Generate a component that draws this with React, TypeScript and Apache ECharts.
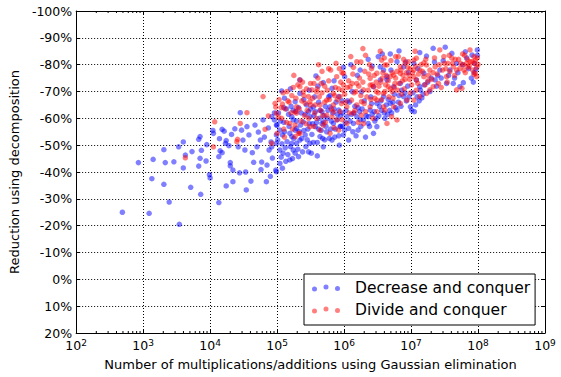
import React, { useEffect, useRef } from "react";
import * as echarts from "echarts";

// Decrease and conquer: [number of operations, reduction %]
const decreaseConquer: [number, number][] = [
  [4.9e2,-25],[8.5e2,-43.5],[1.23e3,-24.6],[1.35e3,-37.5],[1.41e3,-44.7],[2.04e3,-35.4],[2.04e3,-48.3],[2.14e3,-43.5],[2.45e3,-28.8],[2.88e3,-43.8],[3.47e3,-20.5],[3.39e3,-49.4],[3.98e3,-51.2],[3.98e3,-41.5],[4.27e3,-46.3],[5.13e3,-34.3],[5.37e3,-47.6],[6.76e3,-42.2],[6.76e3,-52.2],[7.08e3,-53.2],[7.08e3,-45.1],[7.24e3,-31.7],[7.41e3,-48.1],[8.71e3,-44.1],[8.91e3,-50.2],[9.77e3,-39],[1.0e4,-37.8],
  [1.12e4,-54.4],[1.1e4,-55.5],[1.35e4,-28.6],[1.35e4,-45.7],[1.38e4,-52.4],[1.41e4,-47.9],[1.51e4,-55.9],[1.51e4,-47.2],[1.62e4,-55.2],[1.70e4,-50.7],[1.74e4,-34.8],[1.74e4,-51.7],[1.91e4,-49.8],[2.0e4,-43.5],[2.0e4,-42.3],[2.09e4,-54],[2.19e4,-40.7],[2.19e4,-36.4],[2.34e4,-56.1],[2.63e4,-49.4],[2.75e4,-39.7],[2.82e4,-62.1],[2.95e4,-55.6],[3.09e4,-51.9],
  [3.31e4,-48.2],[3.39e4,-40],[3.47e4,-33.3],[3.55e4,-56.9],[3.80e4,-53.8],[4.07e4,-36.6],[4.27e4,-47.2],[4.47e4,-43.6],[4.68e4,-57.5],[5.01e4,-49.4],[5.25e4,-54.9],[5.62e4,-51.9],[5.75e4,-40.9],[5.89e4,-43.7],[6.17e4,-59.4],[6.46e4,-53],[6.92e4,-36.4],[7.08e4,-42.6],[7.41e4,-56.4],[7.59e4,-48.2],[7.94e4,-38.4],[8.13e4,-51.2],[8.51e4,-45.2],[9.12e4,-62],[9.55e4,-40.7],[9.77e4,-53.8],[9.77e4,-57.5],[8.32e4,-60.6],[9.12e4,-59.4],[9.77e4,-50.7],[8.32e4,-49.4],[9.77e4,-40.1],[1.17e5,-70.2],
  [1.0e5,-57.5],[1.10e5,-55.6],[1.20e5,-53.8],[1.10e5,-48.2],[1.23e5,-47],[1.41e5,-51.3],[1.66e5,-53.2],[1.86e5,-55.6],[1.95e5,-50.7],[1.55e5,-44.5],[1.10e5,-43.2],[1.20e5,-41.4],[1.74e5,-48.2],[2.09e5,-45.7],[1.86e5,-66.2],[1.66e5,-60.6],[1.95e5,-56.3],[2.45e5,-58.7],[2.63e5,-53.8],[3.09e5,-60.6],[2.19e5,-69.3],[2.75e5,-65],[1.74e5,-59.4],[1.55e5,-54.4],[2.19e5,-51.9],[3.09e5,-50.7],[1.66e5,-50.7],[2.19e5,-74.3],
  [1.05e5,-62],[1.15e5,-45.5],[1.26e5,-58.5],[1.32e5,-49],[1.38e5,-63.5],[1.45e5,-46.5],[1.51e5,-57],[1.62e5,-64.5],[1.70e5,-45],[1.78e5,-52.5],[1.91e5,-62.5],[2.04e5,-48.5],[2.14e5,-55],[2.29e5,-62],[2.40e5,-47.5],[2.51e5,-67],[2.69e5,-49.5],[2.88e5,-56],[2.95e5,-62.5],[3.02e5,-70.5],[1.29e5,-67.5],[1.58e5,-71],
  [1.02e5,-52],[1.12e5,-59],[1.18e5,-50.5],[1.29e5,-55],[1.35e5,-44],[1.48e5,-61.5],[1.58e5,-49.5],[1.74e5,-63],[1.86e5,-47],[1.95e5,-59],[2.09e5,-64],[2.24e5,-57.5],[2.34e5,-52.5],[2.51e5,-55.5],[2.63e5,-61.5],[2.82e5,-52],[3.02e5,-58],[3.16e5,-63.5],[2.95e5,-47.5],[1.26e5,-64],
  [3.80e5,-75.8],[4.90e5,-73.3],[3.72e5,-56.9],[4.37e5,-53.2],[4.90e5,-58.7],[5.50e5,-55],[6.61e5,-51.9],[6.92e5,-58.1],[8.32e5,-63.1],[8.71e5,-56.9],[9.77e5,-53.8],[6.61e5,-71.2],[8.32e5,-68.1],[6.17e5,-64.3],[4.68e5,-62.5],[3.47e5,-64.3],[4.90e5,-49.4],[9.77e5,-79],
  [3.24e5,-47],[3.39e5,-58],[3.55e5,-61],[3.63e5,-68],[3.98e5,-51],[4.17e5,-66],[4.27e5,-60],[4.57e5,-55.5],[5.13e5,-52],[5.25e5,-64.5],[5.62e5,-60],[5.89e5,-68],[6.31e5,-56],[6.76e5,-62],[7.24e5,-53],[7.59e5,-66],[7.94e5,-59.5],[8.51e5,-50],[8.91e5,-61],[9.33e5,-66.5],[9.55e5,-57],[4.07e5,-72],[7.08e5,-74],
  [3.31e5,-54],[3.47e5,-51],[3.72e5,-62.5],[3.89e5,-58.5],[4.17e5,-56],[4.37e5,-63],[4.68e5,-58],[4.79e5,-52.5],[5.01e5,-61],[5.37e5,-57],[5.75e5,-63],[6.03e5,-52.5],[6.46e5,-59],[7.08e5,-63.5],[7.41e5,-56],[7.94e5,-61.5],[8.32e5,-53.5],[8.91e5,-57],[9.55e5,-62],[6.17e5,-68.5],[3.98e5,-46],
  [1.02e6,-75.5],[1.74e6,-78],[2.29e6,-82],[1.10e6,-60.6],[1.17e6,-56.3],[1.38e6,-58.1],[1.55e6,-60.6],[1.62e6,-55.6],[1.95e6,-59.4],[2.29e6,-58.1],[2.45e6,-63.1],[3.09e6,-65.6],[1.17e6,-51.9],[1.82e6,-69.9],[2.75e6,-71.8],[1.02e6,-55.6],[2.29e6,-60.6],[2.75e6,-54.4],
  [1.07e6,-63],[1.20e6,-66],[1.29e6,-61.5],[1.45e6,-64.5],[1.51e6,-53.5],[1.70e6,-62.5],[1.78e6,-57],[2.0e6,-66.5],[2.09e6,-53],[2.51e6,-68],[2.63e6,-61.5],[2.88e6,-59],[1.26e6,-80],[1.58e6,-76],[2.63e6,-79.5],[1.32e6,-70],
  [1.05e6,-58.5],[1.12e6,-66.5],[1.23e6,-59],[1.35e6,-55],[1.41e6,-62],[1.62e6,-64],[1.74e6,-59.5],[1.86e6,-63.5],[2.14e6,-61],[2.40e6,-57],[2.57e6,-65.5],[2.82e6,-62.5],[3.02e6,-60],
  [3.24e6,-83],[3.47e6,-79.2],[3.89e6,-68.1],[3.47e6,-74.3],[4.37e6,-75.5],[6.61e6,-85.1],[4.90e6,-84],[3.89e6,-78],[6.17e6,-81.1],[7.76e6,-79.2],[4.37e6,-74.3],[5.50e6,-71.8],[6.92e6,-73],[4.90e6,-65.6],[6.17e6,-63.1],[7.76e6,-68.1],[9.77e6,-64.3],[3.09e6,-56.9],
  [3.31e6,-61],[3.63e6,-63],[4.07e6,-60],[4.57e6,-67],[5.13e6,-62],[5.62e6,-69],[6.46e6,-66],[7.24e6,-70.5],[8.51e6,-66.5],[8.91e6,-72],[5.01e6,-78],[8.32e6,-81],[3.72e6,-84],[9.12e6,-77],
  [3.39e6,-64.5],[3.55e6,-66.5],[3.98e6,-62],[4.27e6,-65],[4.47e6,-61.5],[4.79e6,-63],[5.37e6,-66],[5.89e6,-64],[6.61e6,-68.5],[7.08e6,-64.5],[8.13e6,-69.5],[9.33e6,-68],
  [1.35e7,-84.5],[1.70e7,-83.2],[2.14e7,-86.1],[3.24e7,-86.5],[4.07e7,-84.2],[6.46e7,-84.8],[8.13e7,-83.6],[1.10e7,-80.5],[1.55e7,-76.8],[2.29e7,-74.3],[3.39e7,-73],[6.03e7,-73.3],[5.37e7,-71.8],[1.35e7,-71.8],[1.20e7,-74.3],[2.69e7,-78],[4.79e7,-80.5],[9.77e7,-85.5],[9.33e7,-78.3],[8.71e7,-77],[1.02e7,-63],[1.17e7,-65],[1.32e7,-66.5],[1.45e7,-67.6],
  [1.07e7,-69.5],[1.58e7,-72.5],[1.91e7,-70],[2.51e7,-76],[3.02e7,-81.5],[3.80e7,-78],[4.47e7,-75],[5.89e7,-80],[7.24e7,-78.5],[6.76e7,-82.5],[1.26e7,-78.5],[2.24e7,-81],[8.91e7,-80.5],[9.77e7,-83.5],
  [1.12e7,-62.5],[1.23e7,-68],[1.38e7,-70.5],[1.51e7,-69],[1.78e7,-73.5],[2.0e7,-75],[2.40e7,-72],[2.82e7,-75],[3.63e7,-76],[4.27e7,-73],[5.01e7,-77],[7.94e7,-75],[8.51e7,-73.5]
];

// Divide and conquer: [number of operations, reduction %]
const divideConquer: [number, number][] = [
  [4.27e3,-45.3],[1.12e4,-49.4],[1.17e4,-58.7],[2.51e4,-51.3],[2.57e4,-52.2],[2.82e4,-58.1],[3.55e4,-62.1],[6.17e4,-68.1],[9.33e4,-65.6],[9.55e4,-64.2],[9.77e4,-61.9],[1.20e5,-65.3],[7.41e4,-60.9],[8.32e4,-50.7],[6.61e4,-55.9],[1.0e5,-54.4],
  [1.55e5,-58.1],[1.95e5,-61.9],[2.09e5,-54.4],[2.19e5,-74.3],[2.19e5,-71.8],[2.45e5,-69.9],[2.95e5,-68.1],[3.31e5,-70.6],[2.63e5,-65.6],[3.09e5,-66.2],[1.95e5,-64.3],[1.86e5,-62.5],[3.09e5,-56.9],[2.19e5,-54.4],[1.86e5,-53.2],[1.86e5,-57.5],
  [1.07e5,-67],[1.17e5,-60],[1.32e5,-63.5],[1.41e5,-70],[1.51e5,-66],[1.66e5,-68.5],[2.04e5,-72.5],[2.34e5,-66.5],[2.57e5,-61],[2.82e5,-63],[3.16e5,-73],[1.26e5,-56],[2.69e5,-58],[1.78e5,-76],
  [1.04e5,-60.5],[1.15e5,-64],[1.23e5,-69.5],[1.38e5,-58.5],[1.45e5,-66.5],[1.62e5,-62],[1.74e5,-71.5],[1.91e5,-67.5],[2.14e5,-63.5],[2.29e5,-59],[2.40e5,-73.5],[2.51e5,-68.5],[2.75e5,-71],[2.95e5,-60],[3.16e5,-65],[1.29e5,-53],[1.70e5,-56],
  [6.31e5,-78],[9.33e5,-77],[3.89e5,-69.9],[4.68e5,-69.5],[6.92e5,-69.3],[8.71e5,-68.1],[5.50e5,-66.8],[6.92e5,-65],[4.37e5,-65],[5.50e5,-61.2],[8.71e5,-62.5],[4.90e5,-57.5],[4.37e5,-55.6],[3.89e5,-60],[7.76e5,-59.4],[6.17e5,-54.4],[8.32e5,-55.6],[9.77e5,-76.8],
  [3.55e5,-73],[4.07e5,-75],[4.47e5,-63],[5.13e5,-72],[5.89e5,-74],[6.46e5,-63.5],[7.41e5,-71.5],[7.94e5,-67],[8.91e5,-73.5],[9.55e5,-70.5],[5.25e5,-58.5],[7.08e5,-56.5],[9.33e5,-59.5],[3.63e5,-62],[4.17e5,-80],[7.59e5,-80.5],
  [3.39e5,-67.5],[3.72e5,-65],[3.98e5,-71],[4.27e5,-68],[4.57e5,-73],[4.79e5,-61],[5.13e5,-66],[5.62e5,-70.5],[6.03e5,-67],[6.61e5,-60.5],[7.24e5,-68.5],[7.76e5,-75.5],[8.32e5,-71],[9.12e5,-65.5],[9.77e5,-72.5],[5.89e5,-78.5],[8.51e5,-78.5],[4.68e5,-77.5],[6.92e5,-62.5],[3.55e5,-57],
  [1.55e6,-81.1],[1.23e6,-71.8],[1.55e6,-73],[1.95e6,-70.6],[2.75e6,-71.8],[2.45e6,-74.9],[1.29e6,-66.8],[1.55e6,-65],[1.82e6,-66.2],[2.45e6,-64.3],[1.10e6,-64.3],[1.10e6,-58.1],[1.38e6,-61.9],[1.82e6,-61.2],[2.45e6,-72.4],
  [1.02e6,-69],[1.17e6,-74],[1.35e6,-76.5],[1.41e6,-69.5],[1.70e6,-75],[2.04e6,-77.5],[2.19e6,-68],[2.57e6,-78.5],[2.88e6,-67.5],[3.02e6,-73.5],[1.62e6,-58.5],[2.09e6,-62.5],[2.69e6,-60],[1.26e6,-83],[2.09e6,-83.5],[1.91e6,-86],
  [1.05e6,-66],[1.12e6,-71.5],[1.20e6,-62],[1.32e6,-73],[1.45e6,-63],[1.51e6,-70],[1.66e6,-72],[1.78e6,-68.5],[1.91e6,-73.5],[2.0e6,-65.5],[2.29e6,-70.5],[2.34e6,-76.5],[2.51e6,-67],[2.63e6,-72.5],[2.82e6,-76],[3.02e6,-70],[1.38e6,-79],[1.78e6,-81],[2.40e6,-80],[1.95e6,-58],
  [3.89e6,-69.3],[4.57e6,-71.8],[3.09e6,-76.8],[3.63e6,-81.7],[4.37e6,-79.9],[3.09e6,-66.8],[3.89e6,-64.3],[3.09e6,-62.5],[9.12e6,-81.1],[6.92e6,-76.8],[5.50e6,-76.1],[4.90e6,-75.5],[8.71e6,-66.8],[6.92e6,-65.6],[5.50e6,-64.3],[4.07e6,-63.1],[5.13e6,-60.6],[4.07e6,-79.9],[8.13e6,-80.5],[6.92e6,-79.2],[4.37e6,-58.1],[6.17e6,-59.4],
  [3.31e6,-72],[3.72e6,-75],[4.17e6,-72.5],[4.68e6,-68],[5.25e6,-70],[5.75e6,-73],[6.31e6,-70.5],[7.41e6,-74],[7.94e6,-71],[8.51e6,-77],[9.55e6,-74.5],[3.47e6,-85],[5.89e6,-83],[9.77e6,-69.5],
  [3.24e6,-69.5],[3.55e6,-73.5],[3.80e6,-77],[4.07e6,-70],[4.27e6,-76],[4.57e6,-74],[4.90e6,-71],[5.25e6,-77],[5.62e6,-71.5],[5.89e6,-75],[6.17e6,-77.5],[6.61e6,-73],[7.08e6,-78],[7.59e6,-76],[8.13e6,-74.5],[8.91e6,-79],[9.33e6,-76],[9.77e6,-78.5],[3.98e6,-82.5],[5.01e6,-81.5],[6.46e6,-83],[7.76e6,-82],[3.63e6,-67],[5.37e6,-67.5],[7.24e6,-69],
  [1.20e7,-82.4],[1.10e7,-81.7],[1.55e7,-80.7],[1.10e7,-78],[1.10e7,-75.5],[1.20e7,-74.3],[1.35e7,-78],[1.55e7,-75.5],[3.39e7,-75.5],[3.80e7,-77.4],[4.27e7,-79.2],[4.79e7,-78],[6.76e7,-80.5],[7.59e7,-81.1],[6.03e7,-79.9],[5.37e7,-78.6],[4.07e7,-82.4],[7.59e7,-85.5],[2.14e7,-71.8],[2.57e7,-73],[1.91e7,-70.6],[1.70e7,-69.3],[1.35e7,-68.1],[1.10e7,-66.8],[1.15e7,-85],[1.70e7,-79.9],[1.91e7,-78],[2.29e7,-79.2],[8.71e7,-83],[8.13e7,-81.1],[8.71e7,-80.5],[9.12e7,-81.7],[1.0e8,-80.1],[9.12e7,-76.8],[8.71e7,-76.4],[9.55e7,-75.5],[5.75e7,-71.2],[4.79e7,-70.6],[2.69e7,-85.5],
  [1.02e7,-72.5],[1.29e7,-76.5],[1.62e7,-72.5],[1.82e7,-76],[2.04e7,-74.5],[2.45e7,-76.5],[2.95e7,-78],[3.55e7,-80.5],[4.47e7,-76],[5.13e7,-82],[6.46e7,-77],[7.08e7,-79],[6.31e7,-83.5],[3.09e7,-83],
  [1.05e7,-77],[1.17e7,-79.5],[1.26e7,-73],[1.41e7,-80],[1.48e7,-77.5],[1.66e7,-82],[1.78e7,-74],[2.14e7,-77],[2.24e7,-82.5],[2.63e7,-80],[3.16e7,-80.5],[3.31e7,-78.5],[3.72e7,-83.5],[4.17e7,-80.5],[4.57e7,-82],[5.50e7,-80.5],[5.89e7,-84],[6.17e7,-78],[6.92e7,-82],[7.41e7,-79.5],[8.32e7,-78],[9.55e7,-79],[9.77e7,-82.5],[2.82e7,-71.5],[3.47e7,-73.5],[1.20e7,-70.5]
];

const seriesNames = ["Decrease and conquer", "Divide and conquer"];
const xDecades = [2, 3, 4, 5, 6, 7, 8];
const minorMantissas = [2, 3, 4, 5, 6, 7, 8, 9];
const yTicks = { min: -100, max: 20, step: 10 };

const FONT = "DejaVu Sans";
const dotsIcon =
  "path://M0,4.5a2.5,2.5 0 1,0 5,0a2.5,2.5 0 1,0 -5,0ZM11.5,2.5a2.5,2.5 0 1,0 5,0a2.5,2.5 0 1,0 -5,0ZM23,4a2.5,2.5 0 1,0 5,0a2.5,2.5 0 1,0 -5,0Z";

export default function App() {
  const ref = useRef<HTMLDivElement>(null);
  useEffect(() => {
    document.body.style.margin = "0";
    if (!ref.current) return;
    const chart = echarts.init(ref.current, undefined, { renderer: "svg" });

    const minorTicks: [number, number][] = [];
    xDecades.forEach((d) => minorMantissas.forEach((m) => minorTicks.push([m * Math.pow(10, d), yTicks.max])));

    const axisLineStyle = { show: true, onZero: false, lineStyle: { color: "#000", width: 1 } };
    const tickStyle = { show: true, inside: true, length: 4, lineStyle: { color: "#000", width: 1 } };

    chart.setOption({
      animation: false,
      grid: { left: 76, right: 16, top: 11, bottom: 44, containLabel: false },
      legend: {
        data: seriesNames,
        orient: "vertical",
        left: 304,
        top: 274,
        icon: dotsIcon,
        itemWidth: 28,
        itemHeight: 7,
        itemGap: 6,
        padding: [6, 5, 7, 8],
        borderColor: "#000",
        borderWidth: 1,
        backgroundColor: "#fff",
        textStyle: { fontFamily: FONT, fontSize: 15.5, color: "#000", padding: [0, 0, 0, 10] },
      },
      xAxis: [
        {
          type: "log",
          logBase: 10,
          min: 100,
          max: 1e9,
          position: "bottom",
          name: "Number of multiplications/additions using Gaussian elimination",
          nameLocation: "middle",
          nameGap: 22,
          nameTextStyle: { fontFamily: FONT, fontSize: 13, color: "#000" },
          axisLine: axisLineStyle,
          axisTick: tickStyle,
          splitLine: { show: true, lineStyle: { color: "#000", type: [1, 2], width: 1 } },
          minorTick: { show: false },
          axisLabel: {
            margin: 5,
            formatter: (v: number) => `{b|10}{s|${Math.round(Math.log10(v))}}`,
            rich: {
              b: { fontFamily: FONT, fontSize: 12.5, color: "#000", lineHeight: 14 },
              s: { fontFamily: FONT, fontSize: 9, color: "#000", verticalAlign: "top", lineHeight: 9, padding: [0, 0, 6, 0] },
            },
          },
        },
        {
          type: "log",
          logBase: 10,
          min: 100,
          max: 1e9,
          position: "top",
          axisLine: axisLineStyle,
          axisTick: tickStyle,
          axisLabel: { show: false },
          splitLine: { show: false },
        },
      ],
      yAxis: [
        {
          type: "value",
          min: yTicks.min,
          max: yTicks.max,
          interval: yTicks.step,
          inverse: true,
          position: "left",
          name: "Reduction using decomposition",
          nameLocation: "middle",
          nameGap: 40,
          nameTextStyle: { fontFamily: FONT, fontSize: 13, color: "#000" },
          axisLine: axisLineStyle,
          axisTick: tickStyle,
          splitLine: { show: true, lineStyle: { color: "#000", type: [1, 2], width: 1 } },
          axisLabel: { margin: 4, fontFamily: FONT, fontSize: 12.5, color: "#000", formatter: (v: number) => `${v}%` },
        },
        {
          type: "value",
          min: yTicks.min,
          max: yTicks.max,
          interval: yTicks.step,
          inverse: true,
          position: "right",
          axisLine: axisLineStyle,
          axisTick: tickStyle,
          axisLabel: { show: false },
          splitLine: { show: false },
        },
      ],
      series: [
        {
          name: seriesNames[0],
          type: "scatter",
          data: decreaseConquer,
          symbol: "circle",
          symbolSize: 5.5,
          itemStyle: { color: "#0000ff", opacity: 0.5 },
          z: 2,
        },
        {
          name: seriesNames[1],
          type: "scatter",
          data: divideConquer,
          symbol: "circle",
          symbolSize: 5.5,
          itemStyle: { color: "#ff0000", opacity: 0.5 },
          z: 3,
        },
        {
          type: "custom",
          silent: true,
          clip: false,
          z: 10,
          data: minorTicks,
          encode: { x: 0, y: 1 },
          renderItem: (_p: any, api: any) => {
            const v = api.value(0);
            const b = api.coord([v, yTicks.max]);
            const t = api.coord([v, yTicks.min]);
            return {
              type: "group",
              children: [
                { type: "line", shape: { x1: b[0], y1: b[1], x2: b[0], y2: b[1] - 2 }, style: { stroke: "#000", lineWidth: 1 } },
                { type: "line", shape: { x1: t[0], y1: t[1], x2: t[0], y2: t[1] + 2 }, style: { stroke: "#000", lineWidth: 1 } },
              ],
            };
          },
        },
      ],
    });
    return () => chart.dispose();
  }, []);
  return <div ref={ref} style={{ width: 561, height: 377 }} />;
}
